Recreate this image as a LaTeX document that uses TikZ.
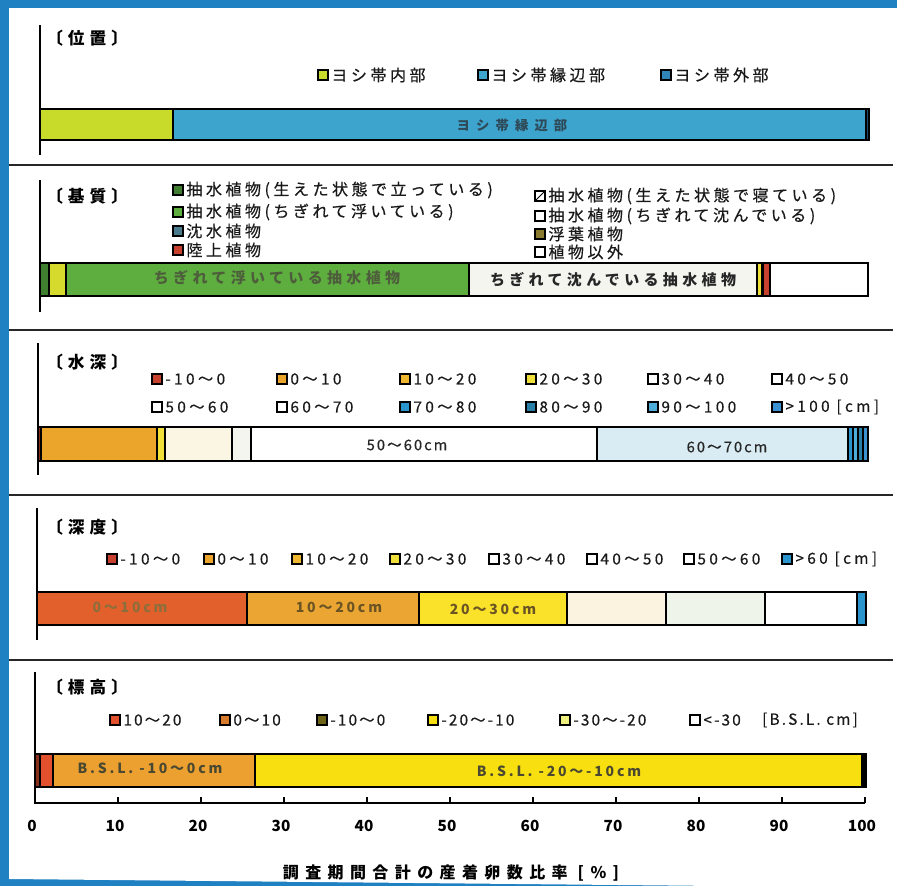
\documentclass[tikz,border=0pt]{standalone}
\usepackage{fontspec}
\setmainfont{Noto Sans CJK JP}
\definecolor{frameC}{HTML}{1F80C2}
\definecolor{limeC}{HTML}{C8DA2A}
\definecolor{blueA}{HTML}{3DA4CE}
\definecolor{blueB}{HTML}{2F85B8}
\definecolor{dkgreen}{HTML}{3F7F2F}
\definecolor{greenC}{HTML}{5DAE3E}
\definecolor{steelC}{HTML}{4A7C8E}
\definecolor{redL}{HTML}{C8402E}
\definecolor{oliveC}{HTML}{8A7A2E}
\definecolor{limey}{HTML}{D6DA2C}
\definecolor{creamC}{HTML}{FBF5E3}
\definecolor{offwh}{HTML}{F3F5EE}
\definecolor{lblue}{HTML}{D9ECF3}
\definecolor{orangeC}{HTML}{EBA52A}
\definecolor{yelC}{HTML}{F2E03A}
\definecolor{goldC}{HTML}{F0B830}
\definecolor{blueS}{HTML}{2A95CC}
\definecolor{blueT}{HTML}{2A7FA8}
\definecolor{blueU}{HTML}{4CAED8}
\definecolor{blueV}{HTML}{3A92D0}
\definecolor{redF}{HTML}{E2602C}
\definecolor{orangeF}{HTML}{EBA532}
\definecolor{yellowF}{HTML}{FAE12A}
\definecolor{creamF}{HTML}{FBF2DF}
\definecolor{greenF}{HTML}{EEF4E9}
\definecolor{redG}{HTML}{E2502E}
\definecolor{orangeG}{HTML}{D87A2C}
\definecolor{orangeGb}{HTML}{EBA030}
\definecolor{oliveG}{HTML}{6E6418}
\definecolor{yellowG}{HTML}{F8E010}
\definecolor{lyellowG}{HTML}{EEF080}
\definecolor{txtA}{HTML}{2E4A58}
\definecolor{txtB}{HTML}{4E5E3C}
\definecolor{txtC}{HTML}{8C6E3C}
\definecolor{txtD}{HTML}{6B5424}
\definecolor{txtE}{HTML}{4A4830}
\newcommand\Leg[6]{%
  \node[mk,fill=#4] (#1m) at (#2,#3) {};
  \node[#6] (#1) at ([xshift=2pt]#1m.east) {#5};}
\begin{document}
\begin{tikzpicture}[x=0.75pt,y=-0.75pt,
  mk/.style={draw=black,line width=0.8pt,minimum size=7.5pt,inner sep=0pt},
  lgj/.style={anchor=west,inner sep=0pt,text=black!90,font=\fontsize{12}{14}\selectfont\addfontfeatures{LetterSpace=22,FakeBold=0.5}},
  lgn/.style={anchor=west,inner sep=0pt,text=black!90,font=\fontsize{11.5}{14}\selectfont\addfontfeatures{LetterSpace=22,FakeBold=0.5}},
  lgm/.style={anchor=west,inner sep=0pt,text=black!90,font=\fontsize{11.5}{14}\selectfont\addfontfeatures{LetterSpace=14,FakeBold=0.5}},
  ttl/.style={anchor=west,inner sep=0pt,font=\fontsize{12.5}{15}\selectfont\bfseries\addfontfeatures{LetterSpace=30}},
  seg/.style={draw=black,line width=0.9pt},
  sep/.style={draw=black!85,line width=1.5pt},
  ax/.style={draw=black,line width=1.2pt},
  bla/.style={inner sep=0pt,text=txtA,font=\fontsize{10}{12}\selectfont\bfseries\addfontfeatures{LetterSpace=46}},
  blb/.style={inner sep=0pt,font=\fontsize{11.25}{13}\selectfont\bfseries\addfontfeatures{LetterSpace=29}},
  blc/.style={inner sep=0pt,text=black!85,font=\fontsize{11}{13}\selectfont\addfontfeatures{LetterSpace=14,FakeBold=0.6}},
  bld/.style={inner sep=0pt,font=\fontsize{10.5}{12}\selectfont\bfseries\addfontfeatures{LetterSpace=20}},
  tick/.style={inner sep=0pt,font=\fontsize{11.5}{13}\selectfont\bfseries},
  axt/.style={inner sep=0pt,font=\fontsize{12}{14}\selectfont\bfseries\addfontfeatures{LetterSpace=40}}]
\useasboundingbox (0,0) rectangle (897,886);
% photo frame
\fill[frameC] (0,0) rectangle (897,886);
\fill[white] (9,8) -- (897,8) -- (897,886) -- (720,886) -- (9,879) -- cycle;
% separators
\draw[sep] (9,165) -- (893,165);
\draw[sep] (9,330) -- (893,330);
\draw[sep] (9,495) -- (893,495);
\draw[sep] (9,660) -- (893,660);
% left axis lines
\draw[ax] (40,25) -- (40,155);
\draw[ax] (40,180) -- (40,312);
\draw[ax] (38,343) -- (38,475);
\draw[ax] (37,508) -- (37,640);
% titles
\node[ttl] (t1) at (46,38) {〔位置〕};
\node[ttl] (t2) at (46,196) {〔基質〕};
\node[ttl] (t3) at (46,362) {〔水深〕};
\node[ttl] (t4) at (46,527) {〔深度〕};
\node[ttl] (t5) at (46,687) {〔標高〕};
% ---------- section 1
\Leg{la}{323}{75}{limeC}{ヨシ帯内部}{lgj}
\Leg{lb}{483}{75}{blueA}{ヨシ帯縁辺部}{lgj}
\Leg{lc}{666}{75}{blueB}{ヨシ帯外部}{lgj}
\filldraw[seg,fill=limeC] (40,109) rectangle (173,140);
\filldraw[seg,fill=blueA] (173,109) rectangle (866,140);
\filldraw[seg,fill=blueB!60!black] (866,109) rectangle (869,140);
\node[bla] (b1) at (512,125) {ヨシ帯縁辺部};
% ---------- section 2
\Leg{ma}{178}{190}{dkgreen}{抽水植物(生えた状態で立っている)}{lgj}
\Leg{mb}{178}{212}{greenC}{抽水植物(ちぎれて浮いている)}{lgj}
\Leg{mc}{178}{231}{steelC}{沈水植物}{lgj}
\Leg{md}{178}{250}{redL}{陸上植物}{lgj}
\Leg{me}{540}{196}{white}{抽水植物(生えた状態で寝ている)}{lgj}
\draw[line width=0.6pt] (mem.south west) -- (mem.north east);
\Leg{mf}{540}{216}{white}{抽水植物(ちぎれて沈んでいる)}{lgj}
\Leg{mg}{540}{234}{oliveC}{浮葉植物}{lgj}
\Leg{mh}{540}{252}{white}{植物以外}{lgj}
\filldraw[seg,fill=dkgreen] (40,263) rectangle (49,296);
\filldraw[seg,fill=limey] (49,263) rectangle (66,296);
\filldraw[seg,fill=greenC] (66,263) rectangle (469,296);
\filldraw[seg,fill=offwh] (469,263) rectangle (757,296);
\filldraw[seg,fill=yelC] (757,263) rectangle (762,296);
\filldraw[seg,fill=redL] (763,263) rectangle (770,296);
\filldraw[seg,fill=white] (770,263) rectangle (868,296);
\node[blb,text=txtB] (b2a) at (277,278) {ちぎれて浮いている抽水植物};
\node[blb,text=black!85] (b2b) at (613,280) {ちぎれて沈んでいる抽水植物};
% ---------- section 3
\Leg{na}{157}{379}{redL}{-10～0}{lgn}
\Leg{nb}{282}{379}{orangeC}{0～10}{lgn}
\Leg{nc}{405}{379}{goldC}{10～20}{lgn}
\Leg{nd}{531}{379}{yelC}{20～30}{lgn}
\Leg{ne}{653}{379}{white}{30～40}{lgn}
\Leg{nf}{777}{379}{white}{40～50}{lgn}
\Leg{ng}{157}{407}{white}{50～60}{lgn}
\Leg{nh}{282}{407}{white}{60～70}{lgn}
\Leg{ni}{405}{407}{blueS}{70～80}{lgn}
\Leg{nj}{531}{407}{blueT}{80～90}{lgn}
\Leg{nk}{653}{407}{blueU}{90～100}{lgn}
\Leg{nl}{777}{407}{blueV}{>100 [cm]}{lgn}
\filldraw[seg,fill=redL!70!black] (38,427) rectangle (41,461);
\filldraw[seg,fill=orangeC] (41,427) rectangle (157,461);
\filldraw[seg,fill=yelC] (157,427) rectangle (165,461);
\filldraw[seg,fill=creamC] (165,427) rectangle (232,461);
\filldraw[seg,fill=offwh] (232,427) rectangle (251,461);
\filldraw[seg,fill=white] (251,427) rectangle (597,461);
\filldraw[seg,fill=lblue] (597,427) rectangle (848,461);
\filldraw[seg,fill=blueS] (848,427) rectangle (853,461);
\filldraw[seg,fill=blueU] (853,427) rectangle (858,461);
\filldraw[seg,fill=blueT] (858,427) rectangle (863,461);
\filldraw[seg,fill=blueV] (863,427) rectangle (868,461);
\node[blc] (b3a) at (407,445) {50～60cm};
\node[blc] (b3b) at (727,447) {60～70cm};
% ---------- section 4
\Leg{oa}{112}{559}{redL}{-10～0}{lgn}
\Leg{ob}{209}{559}{orangeC}{0～10}{lgn}
\Leg{oc}{297}{559}{goldC}{10～20}{lgn}
\Leg{od}{395}{559}{yelC}{20～30}{lgn}
\Leg{oe}{494}{559}{white}{30～40}{lgn}
\Leg{of}{592}{559}{white}{40～50}{lgn}
\Leg{og}{689}{559}{white}{50～60}{lgn}
\Leg{oh}{787}{559}{blueS}{>60 [cm]}{lgn}
\filldraw[seg,fill=redF] (37,592) rectangle (247,625);
\filldraw[seg,fill=orangeF] (247,592) rectangle (419,625);
\filldraw[seg,fill=yellowF] (419,592) rectangle (567,625);
\filldraw[seg,fill=creamF] (567,592) rectangle (666,625);
\filldraw[seg,fill=greenF] (666,592) rectangle (765,625);
\filldraw[seg,fill=white] (765,592) rectangle (857,625);
\filldraw[seg,fill=blueS] (857,592) rectangle (866,625);
\node[bld,text=txtC] (b4a) at (130,607) {0～10cm};
\node[bld,text=txtD] (b4b) at (339,607) {10～20cm};
\node[bld,text=txtD] (b4c) at (493,609) {20～30cm};
% ---------- section 5
\Leg{pa}{115}{720}{redG}{10～20}{lgm}
\Leg{pb}{225}{720}{orangeG}{0～10}{lgm}
\Leg{pc}{322}{720}{oliveG}{-10～0}{lgm}
\Leg{pd}{433}{720}{yellowG}{-20～-10}{lgm}
\Leg{pe}{565}{720}{lyellowG}{-30～-20}{lgm}
\Leg{pf}{695}{720}{white}{<-30}{lgm}
\node[lgm] (pg) at (762,720) {[B.S.L. cm]};
\filldraw[seg,fill=redG!60!black] (35,754) rectangle (40,787);
\filldraw[seg,fill=redG] (40,754) rectangle (53,787);
\filldraw[seg,fill=orangeGb] (53,754) rectangle (255,787);
\filldraw[seg,fill=yellowG] (255,754) rectangle (862,787);
\filldraw[seg,fill=black] (862,754) rectangle (866,787);
\node[bld,text=txtE] (b5a) at (150,768) {B.S.L. -10～0cm};
\node[bld,text=txtE] (b5b) at (559,771) {B.S.L. -20～-10cm};
% ---------- x axis
\draw[ax] (35,672) -- (35,803) -- (865,803);
\foreach \i in {1,...,10} { \draw[ax] (35+83*\i,803) -- ++(0,-6); }
\foreach \i in {0,...,10} {
  \pgfmathtruncatemacro\lab{10*\i}
  \node[tick] (tk\i) at (32+83*\i,826) {\lab};
}
\node[axt] (xt) at (451,873) {調査期間合計の産着卵数比率 [\%]};
\end{tikzpicture}
\end{document}
